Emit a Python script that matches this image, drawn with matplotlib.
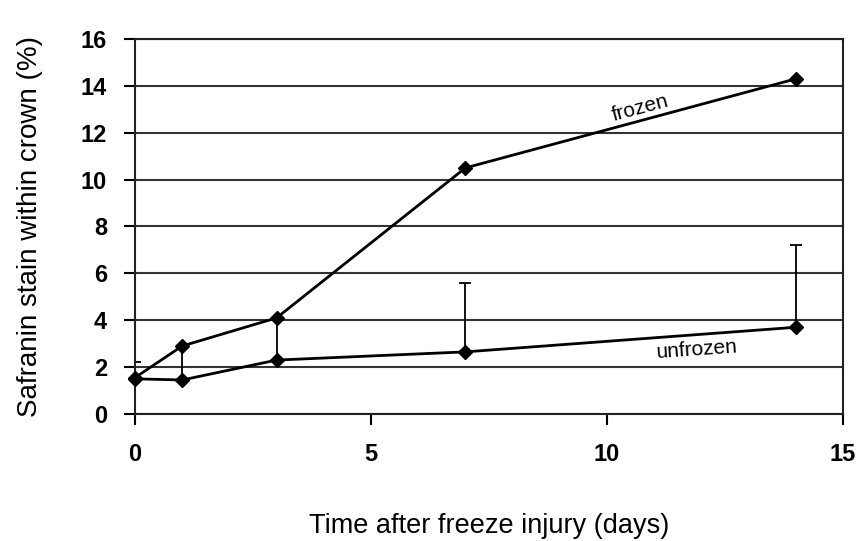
import matplotlib
matplotlib.use("Agg")
import matplotlib.pyplot as plt

days = [0, 1, 3, 7, 14]
frozen = [1.55, 2.9, 4.1, 10.5, 14.3]
unfrozen = [1.5, 1.45, 2.3, 2.65, 3.7]
unfrozen_err_up = [0.7, 1.4, 1.8, 2.95, 3.5]

plt.rcParams['font.family'] = ['Liberation Sans', 'DejaVu Sans']

fig = plt.figure(figsize=(8.56, 5.41), dpi=100)
ax = fig.add_axes([0.1577, 0.2348, 0.8271, 0.6931])

ax.set_xlim(0, 15)
ax.set_ylim(0, 16)
ax.set_yticks(range(0, 17, 2))
ax.set_xticks([0, 5, 10, 15])
ax.yaxis.grid(True, color='#333333', linewidth=1.5)
ax.set_axisbelow(True)

ax.errorbar(days, unfrozen, yerr=[[0]*5, unfrozen_err_up], fmt='none',
            ecolor='black', elinewidth=1.3, capsize=4, capthick=1.3, zorder=2)
ax.plot(days, frozen, color='black', linewidth=2, marker='D', markersize=7,
        clip_on=False, zorder=3)
ax.plot(days, unfrozen, color='black', linewidth=2, marker='D', markersize=7,
        clip_on=False, zorder=3)

for s in ['left', 'bottom', 'right', 'top']:
    ax.spines[s].set_linewidth(1.5)
    ax.spines[s].set_color('#222222')
ax.tick_params(axis='both', direction='out', length=8, width=1.5,
               labelsize=17)
ax.tick_params(axis='y', pad=12)
ax.tick_params(axis='x', pad=13)
for lab in ax.get_xticklabels() + ax.get_yticklabels():
    lab.set_fontweight('bold')

ax.set_xlabel('Time after freeze injury (days)', fontsize=19.5, labelpad=34)
ax.set_ylabel('Safranin stain within crown (%)', fontsize=20, labelpad=27)

ax.text(10.7, 13.05, 'frozen', fontsize=15, rotation=15, ha='center', va='center')
ax.text(11.9, 2.73, 'unfrozen', fontsize=15, rotation=4, ha='center', va='center')

fig.savefig('out.png', dpi=100)
